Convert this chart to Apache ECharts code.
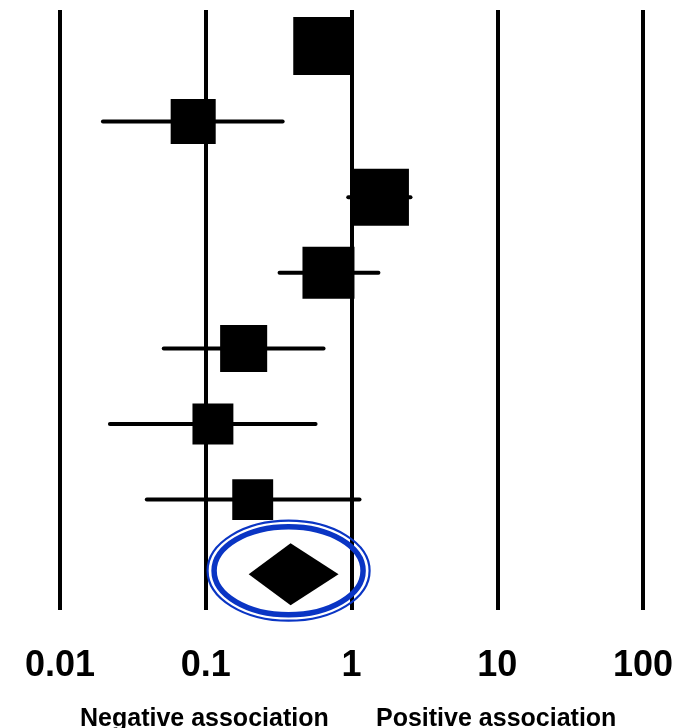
<!DOCTYPE html>
<html>
<head>
<meta charset="utf-8">
<script src="https://cdn.jsdelivr.net/npm/echarts@6/dist/echarts.min.js"></script>
<style>
  html, body { margin: 0; padding: 0; background: #fff; }
  #chart { width: 683px; height: 728px; }
</style>
</head>
<body>
<div id="chart"></div>
<script>
// Forest plot: odds ratios with 95% CI per study, plus pooled estimate
const rows      = [1, 2, 3, 4, 5, 6, 7];
const estimates = [0.63, 0.082, 1.58, 0.695, 0.182, 0.112, 0.21];
const ciLow     = [0.43, 0.0197, 0.95, 0.321, 0.0515, 0.022, 0.0394];
const ciHigh    = [0.93, 0.337, 2.54, 1.53, 0.643, 0.567, 1.135];
const weights   = [19.9, 12.0, 19.2, 16.0, 13.1, 9.9, 9.9]; // % weight

const pooledRow = 8;
const pooled    = { est: 0.382, low: 0.197, high: 0.815 };

const tickValues = [0.01, 0.1, 1, 10, 100];
const tickLabels = ['0.01', '0.1', '1', '10', '100'];
const sideLabels = ['Negative association', 'Positive association'];

const studyData = rows.map((r, i) => [r, estimates[i], ciLow[i], ciHigh[i], weights[i]]);
const pooledData = [[pooledRow, pooled.est, pooled.low, pooled.high, 0]];

const chart = echarts.init(document.getElementById('chart'), null, { renderer: 'canvas' });

function renderStudy(params, api) {
  const row = api.value(0);
  const c = api.coord([api.value(1), row]);
  const l = api.coord([api.value(2), row]);
  const h = api.coord([api.value(3), row]);
  const side = 13 * Math.sqrt(api.value(4));
  return {
    type: 'group',
    children: [
      { type: 'line', shape: { x1: l[0], y1: c[1], x2: h[0], y2: c[1] },
        style: { stroke: '#000', lineWidth: 4, lineCap: 'round' } },
      { type: 'rect', shape: { x: c[0] - side / 2, y: c[1] - side / 2, width: side, height: side },
        style: { fill: '#000' } }
    ]
  };
}

// Pooled estimate: diamond spanning the CI, highlighted by a double blue ring
function renderPooled(params, api) {
  const row = api.value(0);
  const c = api.coord([api.value(1), row]);
  const l = api.coord([api.value(2), row]);
  const h = api.coord([api.value(3), row]);
  const half = 31;
  const ex = c[0] - 2, ey = c[1] - 4.5;
  return {
    type: 'group',
    children: [
      { type: 'polygon', shape: { points: [[l[0], c[1] - 1], [c[0], c[1] - 1 - half], [h[0], c[1] - 1], [c[0], c[1] - 1 + half]] },
        style: { fill: '#000' } },
      { type: 'ellipse', shape: { cx: ex, cy: ey, rx: 81, ry: 50 },
        style: { fill: 'none', stroke: '#0a35c4', lineWidth: 2.2 } },
      { type: 'ellipse', shape: { cx: ex, cy: ey, rx: 74.5, ry: 44 },
        style: { fill: 'none', stroke: '#0a35c4', lineWidth: 5.5 } }
    ]
  };
}

chart.setOption({
  animation: false,
  backgroundColor: '#fff',
  grid: { left: 60, right: 40, top: 10, bottom: 118 },
  xAxis: {
    type: 'log',
    logBase: 10,
    min: tickValues[0],
    max: tickValues[tickValues.length - 1],
    axisLine: { show: false },
    axisTick: { show: false },
    splitLine: { show: true, lineStyle: { color: '#000', width: 4 } },
    axisLabel: {
      margin: 38,
      color: '#000',
      fontFamily: 'Liberation Sans, Arial, sans-serif',
      fontWeight: 'bold',
      fontSize: 36,
      formatter: function (v) {
        const i = tickValues.findIndex(t => Math.abs(Math.log10(t) - Math.log10(v)) < 1e-6);
        return i >= 0 ? tickLabels[i] : '';
      }
    }
  },
  yAxis: {
    type: 'value',
    inverse: true,
    min: 0.524,
    max: 8.46,
    show: false,
    splitLine: { show: false }
  },
  series: [
    { type: 'custom', renderItem: renderStudy, data: studyData, encode: { x: 1, y: 0 } },
    { type: 'custom', renderItem: renderPooled, data: pooledData, encode: { x: 1, y: 0 } }
  ],
  graphic: [
    { type: 'text', left: 80, top: 707,
      style: { text: sideLabels[0], fill: '#000', font: 'bold 25px "Liberation Sans", Arial, sans-serif' } },
    { type: 'text', left: 376, top: 707,
      style: { text: sideLabels[1], fill: '#000', font: 'bold 25px "Liberation Sans", Arial, sans-serif' } }
  ]
});
</script>
</body>
</html>
